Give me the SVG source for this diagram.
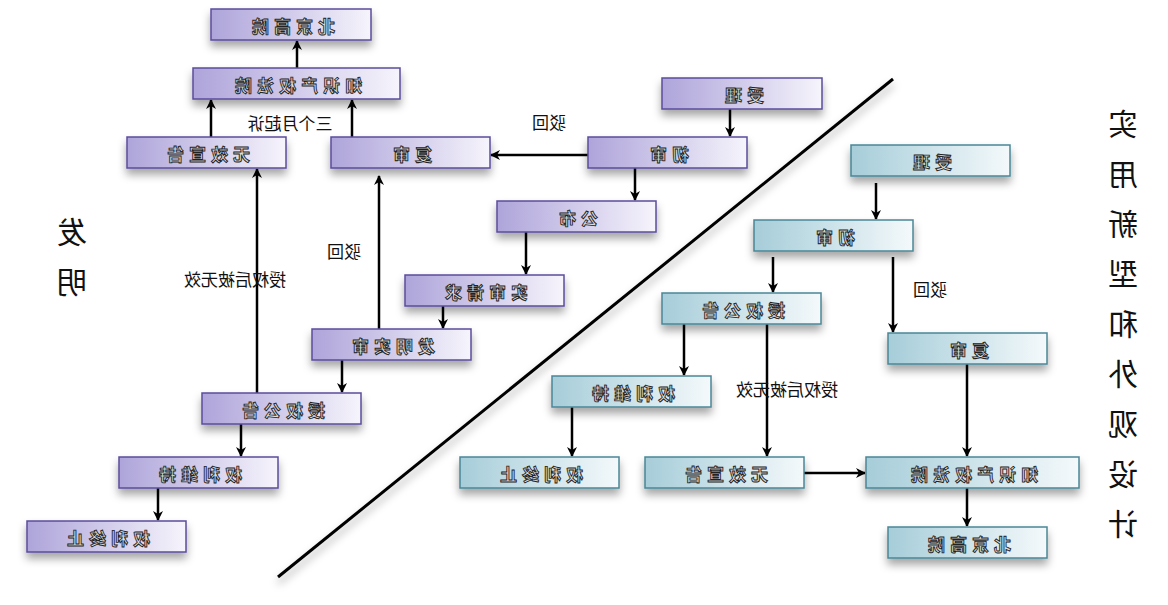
<svg xmlns="http://www.w3.org/2000/svg" width="1168" height="605" viewBox="0 0 1168 605">
<defs>
<linearGradient id="gp" x1="0" x2="1" y1="0" y2="0"><stop offset="0" stop-color="#aea4da"/><stop offset="1" stop-color="#f6f4fc"/></linearGradient>
<linearGradient id="gt" x1="0" x2="1" y1="0" y2="0"><stop offset="0" stop-color="#a6cdd9"/><stop offset="1" stop-color="#f4f9fb"/></linearGradient>
<filter id="sh" x="-20%" y="-30%" width="140%" height="190%"><feDropShadow dx="0" dy="6" stdDeviation="4" flood-color="#000" flood-opacity="0.35"/></filter>
<marker id="ar" markerWidth="10" markerHeight="10" refX="9" refY="5" orient="auto" markerUnits="userSpaceOnUse"><path d="M0,0 L10,5 L0,10 L3,5 Z" fill="#000"/></marker>
<style>
.p{fill:url(#gp);stroke:#5b4c9c;stroke-width:1.5;filter:url(#sh)}
.t{fill:url(#gt);stroke:#4a8797;stroke-width:1.5;filter:url(#sh)}
.bt{font-family:"Noto Sans CJK SC",sans-serif;font-size:17px;font-weight:bold;letter-spacing:5px;fill:#ddd;stroke:#222;stroke-width:0.9;text-anchor:middle;dominant-baseline:central}
.lb{font-family:"Noto Sans CJK SC",sans-serif;font-size:17px;fill:#111;text-anchor:middle;dominant-baseline:central}
.vt{font-family:"Noto Sans CJK SC",serif;font-size:30px;fill:#111;text-anchor:middle;dominant-baseline:central}
.c{stroke:#000;stroke-width:2.5;fill:none;marker-end:url(#ar)}
</style>
</defs>
<rect width="1168" height="605" fill="#fff"/>
<line x1="278" y1="577" x2="893" y2="79" stroke="#000" stroke-width="3" filter="url(#sh)"/>
<g id="connectors">
<path class="c" d="M297,68 V41"/>
<path class="c" d="M211,137 V100"/>
<path class="c" d="M352,137 V100"/>
<path class="c" d="M588,155 H491"/>
<path class="c" d="M730,109 V136"/>
<path class="c" d="M635,168 V200"/>
<path class="c" d="M526,232 V274"/>
<path class="c" d="M443,306 V328"/>
<path class="c" d="M379,329 V176"/>
<path class="c" d="M342,360 V392"/>
<path class="c" d="M257,393 V169"/>
<path class="c" d="M241,424 V456"/>
<path class="c" d="M158,488 V520"/>
<path class="c" d="M876,183 V219"/>
<path class="c" d="M773,257 V292"/>
<path class="c" d="M893,257 V332"/>
<path class="c" d="M684,324 V375"/>
<path class="c" d="M767,324 V456"/>
<path class="c" d="M572,407 V456"/>
<path class="c" d="M804,473 H865"/>
<path class="c" d="M967,364 V456"/>
<path class="c" d="M967,488 V526"/>
</g>
<g class="lb">
<text class="lb" transform="scale(-1,1)" x="-290" y="122">三个月起诉</text>
<text class="lb" transform="scale(-1,1)" x="-549" y="121">驳回</text>
<text class="lb" transform="scale(-1,1)" x="-344" y="250">驳回</text>
<text class="lb" transform="scale(-1,1)" x="-235" y="278">授权后被无效</text>
<text class="lb" transform="scale(-1,1)" x="-930" y="288">驳回</text>
<text class="lb" transform="scale(-1,1)" x="-787" y="388">授权后被无效</text>
</g>
<g>
<text class="vt" transform="scale(-1,1)" x="-72" y="230">发</text>
<text class="vt" transform="scale(-1,1)" x="-72" y="280">明</text>
<text class="vt" transform="scale(-1,1)" x="-1123" y="122">实</text>
<text class="vt" transform="scale(-1,1)" x="-1123" y="172">用</text>
<text class="vt" transform="scale(-1,1)" x="-1123" y="222">新</text>
<text class="vt" transform="scale(-1,1)" x="-1123" y="272">型</text>
<text class="vt" transform="scale(-1,1)" x="-1123" y="322">和</text>
<text class="vt" transform="scale(-1,1)" x="-1123" y="372">外</text>
<text class="vt" transform="scale(-1,1)" x="-1123" y="422">观</text>
<text class="vt" transform="scale(-1,1)" x="-1123" y="472">设</text>
<text class="vt" transform="scale(-1,1)" x="-1123" y="522">计</text>
</g>
<g id="p-bjgy"><rect class="p" x="211" y="9" width="160" height="31"/><text class="bt" transform="scale(-1,1)" x="-291" y="25">北京高院</text></g>
<g id="p-zscq"><rect class="p" x="193" y="68" width="207" height="31"/><text class="bt" transform="scale(-1,1)" x="-296" y="84">知识产权法院</text></g>
<g id="p-wx"><rect class="p" x="127" y="137" width="159" height="31"/><text class="bt" transform="scale(-1,1)" x="-206" y="153">无效宣告</text></g>
<g id="p-fs"><rect class="p" x="331" y="137" width="159" height="31"/><text class="bt" transform="scale(-1,1)" x="-410" y="153">复审</text></g>
<g id="p-sl"><rect class="p" x="662" y="78" width="160" height="31"/><text class="bt" transform="scale(-1,1)" x="-742" y="94">受理</text></g>
<g id="p-cs"><rect class="p" x="588" y="137" width="159" height="31"/><text class="bt" transform="scale(-1,1)" x="-667" y="153">初审</text></g>
<g id="p-gb"><rect class="p" x="497" y="201" width="159" height="31"/><text class="bt" transform="scale(-1,1)" x="-576" y="217">公布</text></g>
<g id="p-sqq"><rect class="p" x="405" y="275" width="159" height="31"/><text class="bt" transform="scale(-1,1)" x="-484" y="291">实审请求</text></g>
<g id="p-fmss"><rect class="p" x="312" y="329" width="159" height="31"/><text class="bt" transform="scale(-1,1)" x="-391" y="345">发明实审</text></g>
<g id="p-sqgg"><rect class="p" x="202" y="393" width="159" height="31"/><text class="bt" transform="scale(-1,1)" x="-281" y="409">授权公告</text></g>
<g id="p-qlwc"><rect class="p" x="119" y="457" width="159" height="31"/><text class="bt" transform="scale(-1,1)" x="-198" y="473">权利维持</text></g>
<g id="p-qlzz"><rect class="p" x="27" y="521" width="159" height="31"/><text class="bt" transform="scale(-1,1)" x="-106" y="537">权利终止</text></g>
<g id="t-sl"><rect class="t" x="851" y="145" width="159" height="31"/><text class="bt" transform="scale(-1,1)" x="-930" y="161">受理</text></g>
<g id="t-cs"><rect class="t" x="754" y="220" width="159" height="31"/><text class="bt" transform="scale(-1,1)" x="-833" y="236">初审</text></g>
<g id="t-sqgg"><rect class="t" x="662" y="293" width="159" height="31"/><text class="bt" transform="scale(-1,1)" x="-741" y="309">授权公告</text></g>
<g id="t-fs"><rect class="t" x="888" y="333" width="159" height="31"/><text class="bt" transform="scale(-1,1)" x="-967" y="349">复审</text></g>
<g id="t-qlwc"><rect class="t" x="552" y="376" width="159" height="31"/><text class="bt" transform="scale(-1,1)" x="-631" y="392">权利维持</text></g>
<g id="t-qlzz"><rect class="t" x="460" y="457" width="159" height="31"/><text class="bt" transform="scale(-1,1)" x="-539" y="473">权利终止</text></g>
<g id="t-wx"><rect class="t" x="645" y="457" width="159" height="31"/><text class="bt" transform="scale(-1,1)" x="-724" y="473">无效宣告</text></g>
<g id="t-zscq"><rect class="t" x="866" y="457" width="213" height="31"/><text class="bt" transform="scale(-1,1)" x="-972" y="473">知识产权法院</text></g>
<g id="t-bjgy"><rect class="t" x="888" y="527" width="159" height="31"/><text class="bt" transform="scale(-1,1)" x="-967" y="543">北京高院</text></g>
</svg>
